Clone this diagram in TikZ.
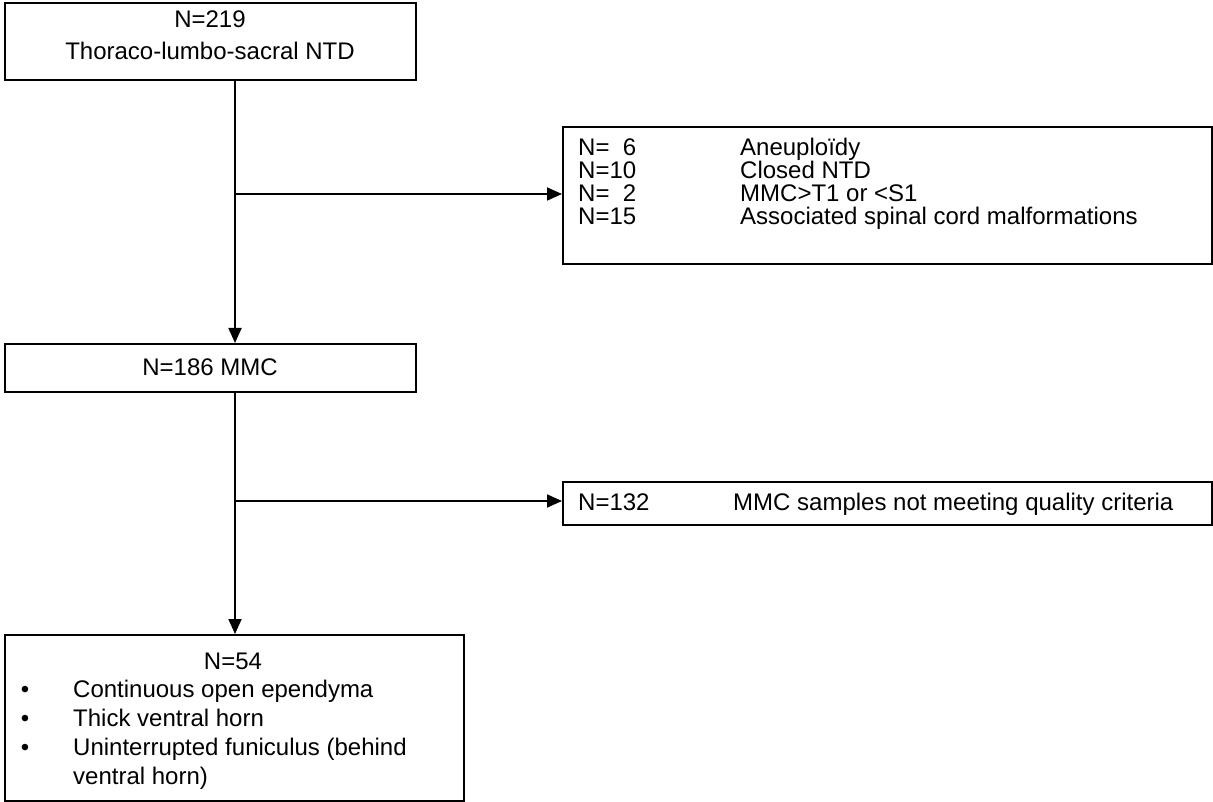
\documentclass[tikz,border=0pt]{standalone}
\usepackage{fontspec}
\setmainfont{Liberation Sans}
\usetikzlibrary{arrows.meta}
\begin{document}
\begin{tikzpicture}[x=1pt,y=-1pt,
  box/.style={draw, line width=1.8pt, inner sep=0pt, anchor=north west},
  txt/.style={font=\fontsize{24}{28}\selectfont, inner sep=0pt, text height=17.3pt, text depth=0pt},
  ln/.style={line width=1.8pt},
  arr/.style={line width=1.8pt, -{Triangle[length=15pt,width=13pt]}}]
\useasboundingbox (0,0) rectangle (1213,802);
% boxes
\node[box, minimum width=411pt, minimum height=77pt] (b1) at (4,2) {};
\node[box, minimum width=649pt, minimum height=137pt] (b2) at (562,126) {};
\node[box, minimum width=411pt, minimum height=48pt] (b3) at (4,343) {};
\node[box, minimum width=649pt, minimum height=43pt] (b4) at (562,481) {};
\node[box, minimum width=459pt, minimum height=166pt] (b5) at (4,634) {};
% texts
\node[txt] (t1a) at (210,19) {N=219};
\node[txt] (t1b) at (210,51) {Thoraco-lumbo-sacral NTD};
\node[txt, anchor=west] (t2a) at (578,147) {N=\phantom{1}6};
\node[txt, anchor=west] (t2b) at (578,170) {N=10};
\node[txt, anchor=west] (t2c) at (578,193) {N=\phantom{1}2};
\node[txt, anchor=west] (t2d) at (578,216) {N=15};
\node[txt, anchor=west] (u2a) at (740,147) {Aneuploïdy};
\node[txt, anchor=west] (u2b) at (740,170) {Closed NTD};
\node[txt, anchor=west] (u2c) at (740,193) {MMC>T1 or <S1};
\node[txt, anchor=west] (u2d) at (740,216) {Associated spinal cord malformations};
\node[txt] (t3) at (210,367) {N=186 MMC};
\node[txt, anchor=west] (t4a) at (578,502) {N=132};
\node[txt, anchor=west] (t4b) at (733,502) {MMC samples not meeting quality criteria};
\node[txt] (t5) at (233,661) {N=54};
\node[txt] (p1) at (25,689) {\textbullet};
\node[txt] (p2) at (25,718) {\textbullet};
\node[txt] (p3) at (25,747) {\textbullet};
\node[txt, anchor=west] (s1) at (73,689) {Continuous open ependyma};
\node[txt, anchor=west] (s2) at (73,718) {Thick ventral horn};
\node[txt, anchor=west] (s3) at (73,747) {Uninterrupted funiculus (behind};
\node[txt, anchor=west] (s4) at (73,776) {ventral horn)};
% connectors
\coordinate (j1) at (235,194);
\coordinate (j2) at (235,501);
\draw[ln] (b1.south -| j1) -- (j1);
\draw[arr] (j1) -- (b3.north -| j1);
\draw[arr] (j1) -- (b2.west |- j1);
\draw[ln] (b3.south -| j2) -- (j2);
\draw[arr] (j2) -- (b5.north -| j2);
\draw[arr] (j2) -- (b4.west |- j2);
\end{tikzpicture}
\end{document}
